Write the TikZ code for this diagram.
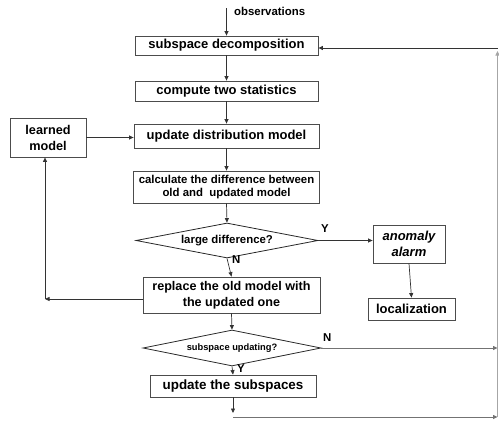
\documentclass[tikz,border=0pt]{standalone}
\usepackage{fontspec}
\setmainfont{Liberation Sans}
\usetikzlibrary{arrows.meta,shapes.geometric}
\begin{document}
\begin{tikzpicture}[x=1pt,y=-1pt,
  box/.style={draw=black!70, line width=0.8pt, inner sep=0pt, align=center,
    font=\fontsize{13}{16}\selectfont\bfseries},
  smallbox/.style={box, font=\fontsize{11.4}{13}\selectfont\bfseries},
  decision/.style={diamond, draw=black!85, line width=0.8pt, inner sep=0pt, aspect=5},
  arr/.style={-{Triangle[length=4.5pt,width=4pt]}, draw=black!80, line width=0.7pt},
  garr/.style={-{Triangle[length=4.5pt,width=4pt]}, draw=black!55, line width=0.8pt},
  lbl/.style={font=\fontsize{11.4}{13}\selectfont\bfseries, inner sep=0pt}
]
\useasboundingbox (0,0) rectangle (499,423);

\node[box, minimum width=183pt, minimum height=19pt] (sub) at (226.5,45.5) {subspace decomposition};
\node[box, minimum width=183pt, minimum height=20pt] (comp) at (226.5,91) {compute two statistics};
\node[box, minimum width=185pt, minimum height=24pt] (upd) at (226.5,136) {update distribution model};
\node[box, minimum width=76pt, minimum height=39pt, font=\fontsize{12.7}{16}\selectfont\bfseries] (learned) at (48,137.5) {learned\\model};
\node[smallbox, minimum width=186pt, minimum height=32pt, font=\fontsize{11.4}{13}\selectfont\bfseries] (calc) at (226.5,187) {calculate the difference between\\old and\ \ updated model};
\node[decision, minimum width=182pt, minimum height=35pt, font=\fontsize{11.4}{13}\selectfont\bfseries] (d1) at (227,240.5) {large difference?};
\node[box, minimum width=72pt, minimum height=38pt, font=\fontsize{13}{16}\selectfont\bfseries\itshape] (alarm) at (409,244) {anomaly\\alarm};
\node[box, minimum width=87pt, minimum height=22pt] (loc) at (411.5,309) {localization};
\node[box, minimum width=177pt, minimum height=36pt, font=\fontsize{12.6}{16.5}\selectfont\bfseries] (rep) at (231.5,295) {replace the old model with\\the updated one};
\node[decision, minimum width=178pt, minimum height=36pt, font=\fontsize{9.3}{11}\selectfont\bfseries] (d2) at (232,348) {subspace updating?};
\node[box, minimum width=166pt, minimum height=22pt, font=\fontsize{13.4}{16}\selectfont\bfseries] (ups) at (233,386) {update the subspaces};

\node[lbl, anchor=west] (obs) at (234,11) {observations};
\node[lbl, anchor=south west] (y1) at (321,233) {Y};
\node[lbl, anchor=north west] (n1) at (232,255) {N};
\node[lbl, anchor=south west] (n2) at (323,342) {N};
\node[lbl, anchor=north west] (y2) at (237,364) {Y};

\coordinate (obsTop) at (226.5,8);
\coordinate (cL) at (45,299);
\coordinate (cB) at (233,413);
\coordinate (cB2) at (233,417);
\coordinate (rBot) at (497.5,417);
\coordinate (rTop) at (497.5,51);
\coordinate (rIn) at (497.5,48);

\draw[arr] (obsTop) -- (sub.north);
\draw[arr] (sub.south) -- (comp.north);
\draw[arr] (comp.south) -- (upd.north);
\draw[arr] (learned.east) -- (learned.east -| upd.west);
\draw[arr] (upd.south) -- (calc.north);
\draw[arr] (calc.south) -- (d1.north);
\draw[arr] (d1.east) -- (d1.east -| alarm.west);
\draw[arr] (alarm.south) -- (loc.north);
\draw[arr] (d1.south) -- (rep.north);
\draw[arr] (rep.west |- cL) -- (cL);
\draw[arr] (cL) -- (cL |- learned.south);
\draw[arr] (rep.south) -- (d2.north);
\draw[garr] (d2.east) -- (d2.east -| rBot);
\draw[arr] (d2.south) -- (ups.north);
\draw[arr] (ups.south) -- (cB);
\draw[garr] (cB2) -- (rBot);
\draw[-{Triangle[length=4.5pt,width=4pt]}, draw=black!35, line width=0.9pt] (rBot) -- (rTop);
\draw[arr] (rIn) -- (rIn -| sub.east);
\end{tikzpicture}
\end{document}
